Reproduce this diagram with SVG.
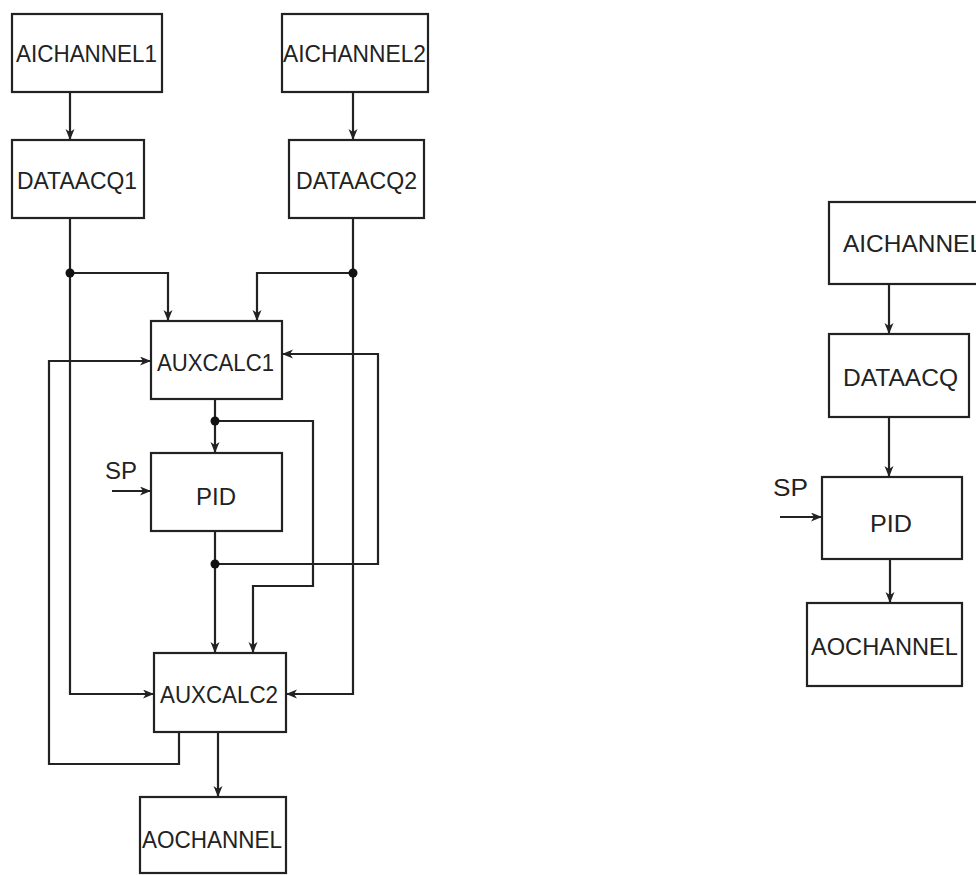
<svg xmlns="http://www.w3.org/2000/svg" width="976" height="875" viewBox="0 0 976 875">
<defs>
<marker id="ah" markerWidth="12" markerHeight="10" refX="11" refY="4.5" orient="auto" markerUnits="userSpaceOnUse">
<path d="M0,0 L11,4.5 L0,9 L3,4.5 z" fill="#222"/>
</marker>
<style>
.box{fill:none;stroke:#222;stroke-width:2.2}
.lbl{font-family:"Liberation Sans",Arial,sans-serif;font-size:24px;fill:#222}
.c{fill:none;stroke:#222;stroke-width:2.2}
.a{marker-end:url(#ah)}
.dot{fill:#111}
</style>
</defs>
<rect width="976" height="875" fill="#fff"/>
<g id="aichannel1"><rect class="box" x="12" y="14" width="150" height="78"/><text class="lbl" x="16" y="62" textLength="141" lengthAdjust="spacingAndGlyphs">AICHANNEL1</text></g>
<g id="aichannel2"><rect class="box" x="282" y="14" width="146" height="78"/><text class="lbl" x="283" y="62" textLength="143" lengthAdjust="spacingAndGlyphs">AICHANNEL2</text></g>
<g id="dataacq1"><rect class="box" x="12" y="140" width="132" height="78"/><text class="lbl" x="17" y="189" textLength="120" lengthAdjust="spacingAndGlyphs">DATAACQ1</text></g>
<g id="dataacq2"><rect class="box" x="289" y="140" width="135" height="78"/><text class="lbl" x="296" y="189" textLength="121" lengthAdjust="spacingAndGlyphs">DATAACQ2</text></g>
<g id="auxcalc1"><rect class="box" x="151" y="321" width="131" height="78"/><text class="lbl" x="157" y="371" textLength="117" lengthAdjust="spacingAndGlyphs">AUXCALC1</text></g>
<g id="pid1"><rect class="box" x="151" y="453" width="131" height="78"/><text class="lbl" x="196" y="505" textLength="40" lengthAdjust="spacingAndGlyphs">PID</text></g>
<g id="sp1"><text class="lbl" x="105" y="479" textLength="32" lengthAdjust="spacingAndGlyphs">SP</text></g>
<g id="auxcalc2"><rect class="box" x="154" y="653" width="132" height="79"/><text class="lbl" x="160" y="703" textLength="118" lengthAdjust="spacingAndGlyphs">AUXCALC2</text></g>
<g id="aochannel1"><rect class="box" x="140" y="797" width="146" height="76"/><text class="lbl" x="142" y="848" textLength="140" lengthAdjust="spacingAndGlyphs">AOCHANNEL</text></g>
<g id="aichannel3"><rect class="box" x="829" y="202" width="160" height="82"/><text class="lbl" x="843" y="252" textLength="140" lengthAdjust="spacingAndGlyphs">AICHANNEL</text></g>
<g id="dataacq3"><rect class="box" x="829" y="334" width="140" height="83"/><text class="lbl" x="843" y="386" textLength="115" lengthAdjust="spacingAndGlyphs">DATAACQ</text></g>
<g id="pid2"><rect class="box" x="822" y="477" width="140" height="82"/><text class="lbl" x="870" y="532" textLength="42" lengthAdjust="spacingAndGlyphs">PID</text></g>
<g id="sp2"><text class="lbl" x="773" y="496" textLength="35" lengthAdjust="spacingAndGlyphs">SP</text></g>
<g id="aochannel2"><rect class="box" x="807" y="603" width="155" height="83"/><text class="lbl" x="811" y="655" textLength="147" lengthAdjust="spacingAndGlyphs">AOCHANNEL</text></g>
<g id="connectors">
<path class="c a" d="M70,92 V140"/>
<path class="c a" d="M353,92 V140"/>
<path class="c a" d="M70,218 V694 H154"/>
<path class="c a" d="M70,273 H168 V321"/>
<path class="c a" d="M353,218 V694 H286"/>
<path class="c a" d="M353,273 H257 V321"/>
<path class="c a" d="M179,732 V764 H49 V361 H151"/>
<path class="c a" d="M215,399 V453"/>
<path class="c a" d="M215,421 H313 V586 H253 V653"/>
<path class="c a" d="M215,531 V653"/>
<path class="c a" d="M215,564 H378 V354 H282"/>
<path class="c a" d="M112,491 H151"/>
<path class="c a" d="M218,732 V797"/>
<circle class="dot" cx="70" cy="273" r="4.5"/>
<circle class="dot" cx="353" cy="273" r="4.5"/>
<circle class="dot" cx="215" cy="421" r="4.5"/>
<circle class="dot" cx="215" cy="564" r="4.5"/>
<path class="c a" d="M889,284 V334"/>
<path class="c a" d="M889,417 V477"/>
<path class="c a" d="M780,517 H822"/>
<path class="c a" d="M890,559 V603"/>
</g>
</svg>
